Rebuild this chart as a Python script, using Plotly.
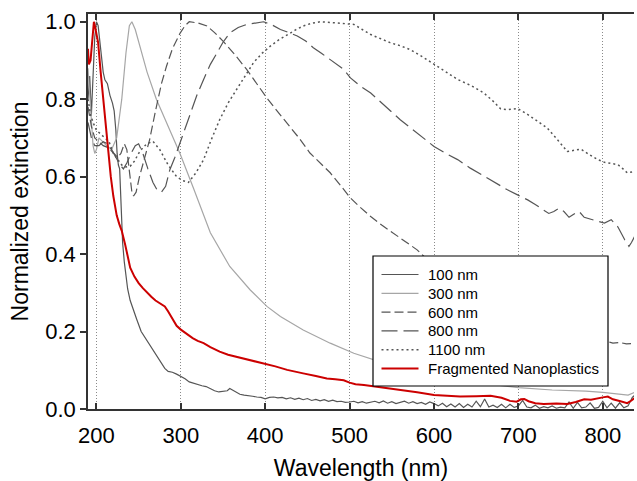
import plotly.graph_objects as go

# ---------------- data ----------------
wl_100 = [190,192,194,196,198,200,202,204,206,208,210,213,216,219,221,223,224.5,226,227.5,228.5,229.5,231,233,235,237,240,243,248,253,259,265,271,277,281,285,290,295,300,305,310,315,320,325,330,335,340,345,350,355,358,362,366,370,375,380,385,390,395,400,405,410,415,420,425,430,435,440,445,450,455,460,465,470,475,480,485,490,495,500,505,510,515,520,525,530,535,540,545,550,555,560,565,570,575,580,585,590,595,600,605,610,615,620,625,630,635,640,645,650,655,660,665,670,675,680,685,690,695,700,705,710,715,720,725,730,735,740,745,750,755,760,765,770,775,780,785,790,795,800,805,810,815,820,825,830,835,840]
ext_100 = [0.80,0.86,0.76,0.88,0.96,1.0,0.99,0.95,0.90,0.87,0.85,0.84,0.81,0.79,0.77,0.72,0.66,0.63,0.62,0.56,0.48,0.43,0.38,0.34,0.31,0.28,0.26,0.23,0.20,0.18,0.16,0.14,0.12,0.105,0.097,0.095,0.09,0.085,0.078,0.07,0.066,0.062,0.06,0.058,0.052,0.047,0.044,0.045,0.047,0.053,0.048,0.042,0.038,0.036,0.035,0.033,0.031,0.03,0.026,0.03,0.031,0.029,0.03,0.026,0.029,0.025,0.028,0.024,0.027,0.022,0.025,0.021,0.024,0.02,0.023,0.019,0.02,0.017,0.018,0.02,0.016,0.019,0.015,0.018,0.02,0.016,0.021,0.015,0.019,0.014,0.018,0.02,0.015,0.019,0.014,0.017,0.012,0.018,0.014,0.008,0.015,0.006,0.013,0.005,0.014,0.004,0.012,0.005,0.02,0.006,0.026,0.005,0.01,0.004,0.012,0.003,0.012,0.004,0.008,0.022,0.005,0.003,0.01,0.002,0.006,0.003,0.008,0.002,0.005,0.003,0.018,0.002,0.017,0.003,0.005,0.016,0.002,0.004,0.02,0.003,0.015,0.002,0.016,0.003,0.008,0.03,0.04]

wl_300 = [190,193,196,198,200,203,207,212,218,224,230,235,239,242,246,252,260,271,285,299,315,335,358,382,402,418,445,477,505,528,550,600,650,700,740,780,800,830,840]
ext_300 = [0.88,0.78,0.68,0.66,0.67,0.70,0.69,0.68,0.67,0.70,0.80,0.92,0.99,1.0,0.98,0.93,0.87,0.80,0.73,0.66,0.57,0.455,0.368,0.308,0.265,0.239,0.204,0.17,0.144,0.127,0.112,0.087,0.068,0.055,0.049,0.046,0.043,0.036,0.045]

wl_600 = [190,194,198,203,208,214,220,225,229,233,236,239,242,244,247,251,257,263,270,277,283,290,299,305,310,320,331,340,350,364,378,390,402,414,426,440,453,465,477,489,501,513,525,538,552,566,580,590,600,650,700,750,800,812,820,828,840]
ext_600 = [0.78,0.73,0.70,0.69,0.68,0.675,0.66,0.65,0.66,0.685,0.67,0.62,0.56,0.55,0.56,0.60,0.65,0.695,0.77,0.84,0.885,0.93,0.97,0.99,1.0,0.997,0.989,0.972,0.95,0.915,0.877,0.84,0.803,0.77,0.739,0.70,0.661,0.635,0.61,0.578,0.545,0.52,0.497,0.475,0.454,0.432,0.411,0.39,0.375,0.31,0.255,0.21,0.178,0.17,0.172,0.168,0.17]

wl_800 = [190,194,198,203,208,213,218,223,228,232,236,241,246,250,255,261,267,272,277,282,287,293,299,305,311,319,327,335,343,350,358,368,378,388,398,408,418,428,438,448,457,467,477,487,493,501,512,525,540,550,560,570,580,590,600,614,628,643,659,673,687,699,711,720,730,736,742,748,754,760,767,772,778,786,794,802,810,818,826,831,834,840]
ext_800 = [0.74,0.70,0.68,0.68,0.69,0.685,0.67,0.65,0.63,0.62,0.635,0.66,0.68,0.685,0.66,0.62,0.585,0.565,0.56,0.575,0.618,0.65,0.687,0.725,0.765,0.81,0.851,0.89,0.92,0.947,0.971,0.985,0.993,0.997,1.0,0.992,0.98,0.972,0.963,0.95,0.933,0.918,0.902,0.888,0.877,0.855,0.835,0.816,0.786,0.766,0.747,0.73,0.713,0.695,0.678,0.66,0.644,0.622,0.601,0.584,0.566,0.553,0.54,0.528,0.515,0.505,0.51,0.518,0.51,0.495,0.505,0.51,0.495,0.49,0.483,0.48,0.489,0.47,0.437,0.42,0.43,0.455]

wl_1100 = [190,193,196,200,205,210,215,220,225,230,235,240,245,250,255,260,267,275,285,295,302,309,318,327,336,346,356,366,376,386,396,406,416,426,436,445,455,465,475,485,495,505,515,525,537,548,560,572,586,600,614,628,644,659,670,679,688,699,710,722,734,746,758,766,774,784,794,802,810,818,824,829,835,840]
ext_1100 = [0.80,0.76,0.74,0.72,0.71,0.70,0.69,0.66,0.645,0.63,0.625,0.627,0.64,0.66,0.675,0.685,0.691,0.67,0.63,0.60,0.59,0.585,0.61,0.644,0.695,0.747,0.79,0.825,0.862,0.894,0.918,0.937,0.953,0.967,0.979,0.989,0.996,1.0,0.999,0.997,0.995,0.993,0.98,0.967,0.956,0.946,0.938,0.928,0.91,0.89,0.87,0.851,0.835,0.816,0.795,0.775,0.773,0.776,0.762,0.745,0.726,0.696,0.665,0.668,0.671,0.657,0.644,0.637,0.634,0.631,0.62,0.61,0.612,0.614]

wl_frag = [190,191,193,195,197,199,202,205,208,211,214,217,220,224,227,230,234,237,240,245,250,255,260,265,270,276,281,285,290,295,300,307,314,320,327,335,346,356,366,380,398,412,426,436,445,460,473,483,493,500,507,517,528,545,560,580,600,615,631,650,667,680,690,698,703,707,712,720,730,745,758,768,778,786,794,800,806,812,821,829,834,840]
ext_frag = [0.93,0.89,0.90,0.96,1.0,0.98,0.946,0.87,0.80,0.73,0.661,0.60,0.55,0.50,0.478,0.46,0.425,0.39,0.365,0.342,0.325,0.312,0.30,0.29,0.28,0.272,0.265,0.252,0.232,0.215,0.205,0.193,0.183,0.176,0.17,0.16,0.148,0.14,0.135,0.127,0.118,0.11,0.101,0.097,0.092,0.085,0.079,0.077,0.074,0.068,0.064,0.062,0.059,0.054,0.049,0.043,0.036,0.034,0.032,0.033,0.034,0.029,0.021,0.019,0.025,0.026,0.02,0.015,0.013,0.014,0.013,0.018,0.025,0.024,0.028,0.03,0.032,0.025,0.02,0.015,0.022,0.032]

x_ticks = [200, 300, 400, 500, 600, 700, 800]
y_ticks = [0.0, 0.2, 0.4, 0.6, 0.8, 1.0]

# ---------------- styling ----------------
DARK = "#555555"
LIGHT = "#a6a6a6"
RED = "#cc0000"
FONT = "Liberation Sans, Arial, sans-serif"

series = [
    ("100 nm", wl_100, ext_100, DARK, "solid", 1.2),
    ("300 nm", wl_300, ext_300, LIGHT, "solid", 1.2),
    ("600 nm", wl_600, ext_600, DARK, "9px,4px", 1.2),
    ("800 nm", wl_800, ext_800, DARK, "16px,6px", 1.2),
    ("1100 nm", wl_1100, ext_1100, DARK, "2px,3px", 1.5),
    ("Fragmented Nanoplastics", wl_frag, ext_frag, RED, "solid", 2.0),
]

W, H = 637, 481
ML, MR, MT, MB = 88, 3, 14, 72
PW, PH = W - ML - MR, H - MT - MB

fig = go.Figure()
for name, xs, ys, col, dash, w in series:
    fig.add_trace(go.Scatter(x=xs, y=ys, mode="lines", name=name, showlegend=False,
                             line=dict(color=col, dash=dash, width=w)))

# ---- boxed key laid out like the reference (pixel positions -> paper units) ----
def px_x(p):
    return (p - ML) / PW

def px_y(p):
    return (H - MB - p) / PH

shapes = [dict(type="rect", xref="paper", yref="paper",
               x0=px_x(373), x1=px_x(608), y0=px_y(386), y1=px_y(256),
               fillcolor="white", line=dict(color="black", width=1.2), layer="above")]
annotations = []
row0, row_step = 274.5, 18.8
for i, (name, xs, ys, col, dash, w) in enumerate(series):
    yy = px_y(row0 + i * row_step)
    shapes.append(dict(type="line", xref="paper", yref="paper",
                       x0=px_x(381.5), x1=px_x(418.5), y0=yy, y1=yy,
                       line=dict(color=col, dash=dash, width=w), layer="above"))
    annotations.append(dict(xref="paper", yref="paper", x=px_x(426), y=yy,
                            xanchor="left", yanchor="middle", showarrow=False,
                            text=name, font=dict(size=15, family=FONT, color="black")))

fig.update_layout(
    width=W, height=H,
    margin=dict(l=ML, r=MR, t=MT, b=MB),
    paper_bgcolor="white", plot_bgcolor="white",
    font=dict(family=FONT, color="black"),
    showlegend=False,
    hovermode=False,
    shapes=shapes, annotations=annotations,
    xaxis=dict(range=[190, 837], tickvals=x_ticks, ticks="inside", ticklen=6,
               tickcolor="#333", tickwidth=1.5, mirror="ticks",
               showline=True, linecolor="#333", linewidth=1.5,
               showgrid=True, gridcolor="#8a8a8a", griddash="1px,2px", gridwidth=1,
               zeroline=False, tickfont=dict(size=22),
               ticklabelstandoff=6, automargin=False,
               title=dict(text="Wavelength (nm)", font=dict(size=23), standoff=14)),
    yaxis=dict(range=[0, 1.02], tickvals=y_ticks, tickformat=".1f",
               ticks="outside", ticklen=6, tickcolor="#333", tickwidth=1.5,
               showline=True, linecolor="#333", linewidth=1.5, mirror=False,
               showgrid=False, zeroline=False, tickfont=dict(size=22), automargin=False,
               title=dict(text="Normalized extinction", font=dict(size=23), standoff=10)),
    yaxis2=dict(range=[0, 1.02], tickvals=y_ticks, overlaying="y", side="right",
                anchor="x", ticks="inside", ticklen=6, tickcolor="#333", tickwidth=1.5,
                showline=True, linecolor="#333", linewidth=1.5,
                showticklabels=False, showgrid=False, zeroline=False, automargin=False),
)

# the page's default 8px body margin would push the 637x481 figure past the window
fig.write_html("out.html", config={"displayModeBar": False},
               post_script="document.body.style.margin='0';document.body.style.overflow='hidden';")
